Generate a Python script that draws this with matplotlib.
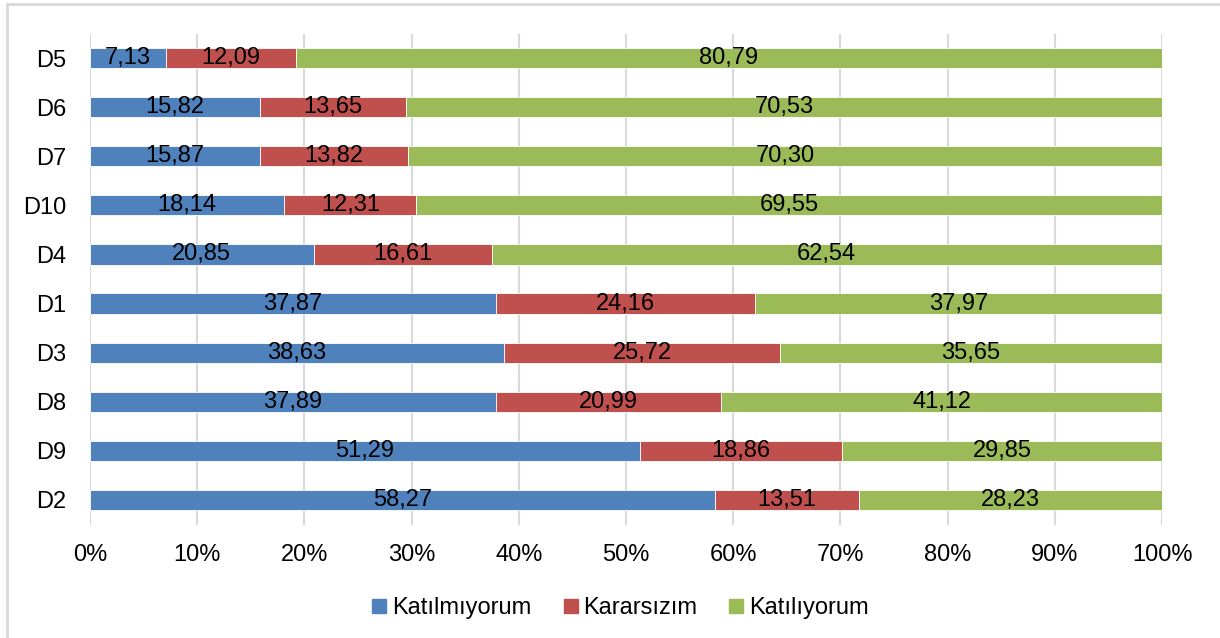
import matplotlib
matplotlib.use("Agg")
import matplotlib.pyplot as plt
from matplotlib.lines import Line2D
import numpy as np

plt.rcParams['font.family'] = ['Liberation Sans', 'DejaVu Sans']

# Items, top to bottom
items = ["D5", "D6", "D7", "D10", "D4", "D1", "D3", "D8", "D9", "D2"]
series_names = ["Katılmıyorum", "Kararsızım", "Katılıyorum"]
katilmiyorum = [7.13, 15.82, 15.87, 18.14, 20.85, 37.87, 38.63, 37.89, 51.29, 58.27]
kararsizim = [12.09, 13.65, 13.82, 12.31, 16.61, 24.16, 25.72, 20.99, 18.86, 13.51]
katiliyorum = [80.79, 70.53, 70.30, 69.55, 62.54, 37.97, 35.65, 41.12, 29.85, 28.23]
x_ticks = [0, 10, 20, 30, 40, 50, 60, 70, 80, 90, 100]

colors = ["#4F81BD", "#C0504D", "#9BBB59"]
FS = 17

fig = plt.figure(figsize=(12.2, 6.38), dpi=100)
ax = fig.add_axes([90 / 1220, 1 - 524.5 / 638, 1072 / 1220, 491 / 638])

data = np.array([katilmiyorum, kararsizim, katiliyorum], dtype=float)
shares = data / data.sum(axis=0) * 100
ypos = np.arange(len(items))[::-1]

left = np.zeros(len(items))
for vals, share, color, name in zip(data, shares, colors, series_names):
    ax.barh(ypos, share, left=left, height=0.41, color=color,
            edgecolor="white", linewidth=0.6, label=name, zorder=3)
    for y, l, w, v in zip(ypos, left, share, vals):
        ax.text(l + w / 2, y, f"{v:.2f}".replace(".", ","), ha="center",
                va="center", fontsize=FS, color="black", zorder=4)
    left += share

ax.set_xlim(0, 100)
ax.set_ylim(-0.5, len(items) - 0.5)
ax.set_yticks(ypos)
ax.set_yticklabels(items, fontsize=FS)
ax.set_xticks(x_ticks)
ax.set_xticklabels([f"{t}%" for t in x_ticks], fontsize=FS)
ax.tick_params(axis="both", length=0)
ax.tick_params(axis="x", pad=14)
ax.tick_params(axis="y", pad=17)
ax.grid(axis="x", color="#D9D9D9", linewidth=1.5, zorder=0)
for s in ax.spines.values():
    s.set_visible(False)

handles = [Line2D([], [], marker="s", linestyle="none", markersize=10,
                  markerfacecolor=c, markeredgecolor=c) for c in colors]
fig.legend(handles, series_names, loc="center", bbox_to_anchor=(619.5 / 1220, 1 - 608 / 638),
           ncol=3, frameon=False, fontsize=FS, handlelength=0.75,
           handletextpad=0.15, columnspacing=1.3)

# Chart frame (top and left edges)
fig.add_artist(Line2D([6.5 / 1220, 6.5 / 1220], [0, 1 - 4 / 638], color="#D9D9D9",
                      linewidth=2, transform=fig.transFigure))
fig.add_artist(Line2D([6.5 / 1220, 1], [1 - 4 / 638, 1 - 4 / 638], color="#D9D9D9",
                      linewidth=2, transform=fig.transFigure))

fig.savefig("out.png", dpi=100, facecolor="white")
